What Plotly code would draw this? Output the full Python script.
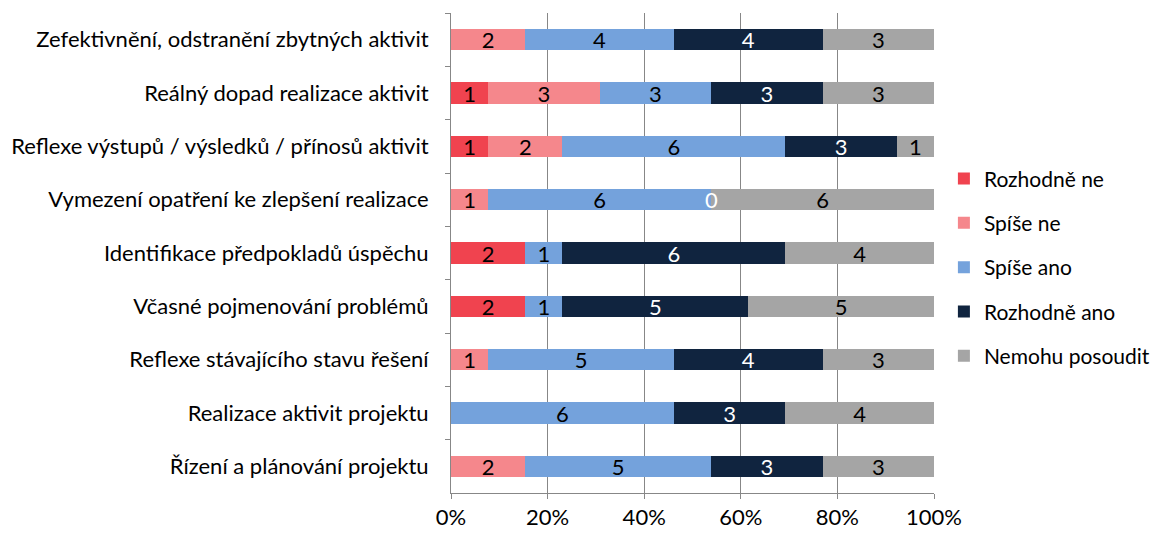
import plotly.graph_objects as go

# Categories top to bottom
categories = [
    "Zefektivnění, odstranění zbytných aktivit",
    "Reálný dopad realizace aktivit",
    "Reflexe výstupů / výsledků / přínosů aktivit",
    "Vymezení opatření ke zlepšení realizace",
    "Identifikace předpokladů úspěchu",
    "Včasné pojmenování problémů",
    "Reflexe stávajícího stavu řešení",
    "Realizace aktivit projektu",
    "Řízení a plánování projektu",
]

# None = no answer in that category (no label shown)
rozhodne_ne = [None, 1, 1, None, 2, 2, None, None, None]
spise_ne = [2, 3, 2, 1, None, None, 1, None, 2]
spise_ano = [4, 3, 6, 6, 1, 1, 5, 6, 5]
rozhodne_ano = [4, 3, 3, 0, 6, 5, 4, 3, 3]
nemohu_posoudit = [3, 3, 1, 6, 4, 5, 3, 4, 3]

series = [
    ("Rozhodně ne", rozhodne_ne, "#F0434F", "#000000"),
    ("Spíše ne", spise_ne, "#F5878C", "#000000"),
    ("Spíše ano", spise_ano, "#74A2DC", "#000000"),
    ("Rozhodně ano", rozhodne_ano, "#10243F", "#FFFFFF"),
    ("Nemohu posoudit", nemohu_posoudit, "#A5A5A5", "#000000"),
]

font_family = "Lato, 'Open Sans', sans-serif"
font_size = 22

fig = go.Figure()
for name, values, color, text_color in series:
    fig.add_trace(go.Bar(
        y=categories,
        x=[v if v is not None else 0 for v in values],
        name=name,
        orientation="h",
        marker=dict(color=color, line=dict(width=0)),
        text=["" if v is None else str(v) for v in values],
        textposition="inside",
        insidetextanchor="middle",
        textangle=0,
        constraintext="none",
        textfont=dict(color=text_color, size=font_size, family=font_family),
        legendgroup=name,
        hoverinfo="name+x",
    ))

# zero-width segments still get their label (plotly drops text on empty bars)
totals = [sum(v or 0 for v in col) for col in zip(*[s[1] for s in series])]
for i, cat in enumerate(categories):
    running = 0
    for name, values, color, text_color in series:
        v = values[i]
        if v == 0:
            fig.add_annotation(
                x=running / totals[i] * 100, y=cat,
                text=str(v), showarrow=False,
                xanchor="center", yanchor="middle",
                font=dict(color=text_color, size=font_size, family=font_family),
            )
        running += v or 0

# page body has an 8px margin, so the figure is a bit smaller than the window
fig.update_layout(
    barmode="stack",
    barnorm="percent",
    bargap=0.6,
    width=1155,
    height=525,
    paper_bgcolor="white",
    plot_bgcolor="white",
    font=dict(family=font_family, size=font_size, color="#000000"),
    margin=dict(l=443, r=229, t=5, b=40),
    legend=dict(
        x=1.0205,
        y=0.47,
        xanchor="left",
        yanchor="middle",
        traceorder="grouped",
        tracegroupgap=14,
        font=dict(size=21),
        itemwidth=30,
    ),
    xaxis=dict(
        range=[0, 100],
        tickvals=[0, 20, 40, 60, 80, 100],
        ticktext=["0%", "20%", "40%", "60%", "80%", "100%"],
        showgrid=True,
        gridcolor="#878787",
        gridwidth=1,
        showline=True,
        linecolor="#878787",
        ticks="outside",
        ticklen=5,
        tickcolor="#878787",
        zeroline=False,
        automargin=False,
        fixedrange=True,
    ),
    yaxis=dict(
        autorange="reversed",
        showline=True,
        linecolor="#878787",
        ticks="outside",
        tickson="boundaries",
        ticklen=5,
        tickcolor="#878787",
        showgrid=False,
        ticklabelstandoff=17,
        automargin=False,
        fixedrange=True,
    ),
)

fig.write_html("out.html")
